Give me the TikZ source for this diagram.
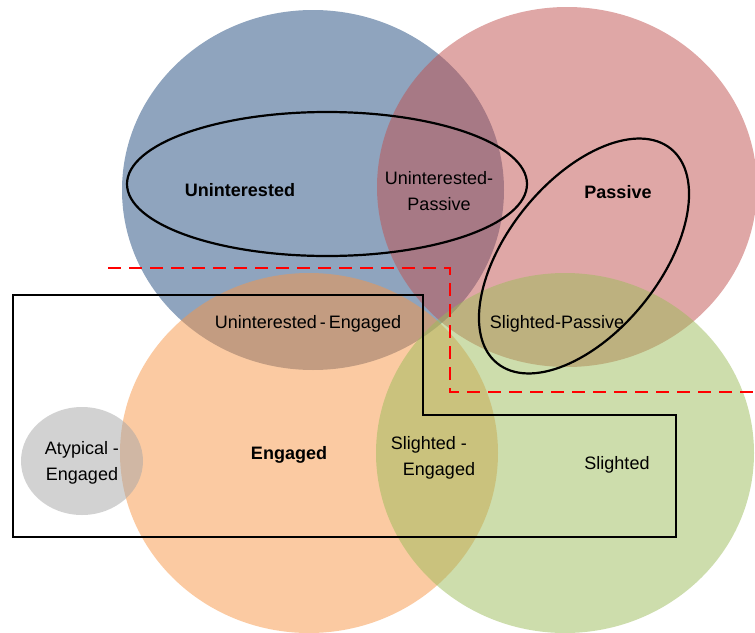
\documentclass[tikz,border=0pt]{standalone}
\usepackage{fontspec}
\setmainfont{Liberation Sans}
\definecolor{uninblue}{HTML}{1F497D}
\definecolor{passred}{HTML}{C0504D}
\definecolor{engorange}{HTML}{F79646}
\definecolor{sliggreen}{HTML}{9BBB59}
\definecolor{atygray}{HTML}{A6A6A6}
\begin{document}
\begin{tikzpicture}[x=1pt,y=-1pt,
    zone/.style={fill opacity=0.5,draw=none},
    ring/.style={draw=black,line width=2.2pt},
    zonetext/.style={font=\fontsize{18}{26}\selectfont,align=center,inner sep=0pt,text height=13pt,text depth=0pt},
    zonebold/.style={zonetext,font=\fontsize{18}{26}\selectfont\bfseries}]
  \useasboundingbox (0,0) rectangle (755,632);

  % the four groups and the atypical one
  \fill[zone,uninblue] (313,190) ellipse [x radius=191,y radius=180];
  \fill[zone,passred] (567,187) ellipse [x radius=190,y radius=180];
  \fill[zone,engorange] (309,453) ellipse [x radius=189,y radius=180];
  \fill[zone,sliggreen] (565,453) ellipse [x radius=189,y radius=180];
  \fill[zone,atygray] (82,461) ellipse [x radius=61,y radius=54];

  % outlines
  \draw[ring] (327,184) ellipse [x radius=200,y radius=72];
  \draw[ring,rotate around={51:(584,256)}] (584,256) ellipse [x radius=138,y radius=76];
  \draw[line width=2pt] (13,295) -- (423,295) -- (423,415) -- (676,415) -- (676,537) -- (13,537) -- cycle;
  \draw[red,line width=2.4pt,dash pattern=on 13pt off 8pt] (108,268) -- (450,268) -- (450,392) -- (755,392);

  % labels
  \node[zonebold] (unin) at (240,190) {Uninterested};
  \node[zonetext] (uninpass) at (439,204) {Uninterested-\\Passive};
  \node[zonebold] (pass) at (618,192) {Passive};
  \node[zonetext] (uninenga) at (308,322) {Uninterested\,-\,Engaged};
  \node[zonetext] (sligpass) at (557,322) {Slighted-Passive};
  \node[zonetext] (atyp) at (82,474) {Atypical -\\Engaged};
  \node[zonebold] (enga) at (289,453) {Engaged};
  \node[zonetext,align=left] (sligenga) at (433,469) {Slighted -\\\hspace*{12pt}Engaged};
  \node[zonetext] (slig) at (617,463) {Slighted};
\end{tikzpicture}
\end{document}
